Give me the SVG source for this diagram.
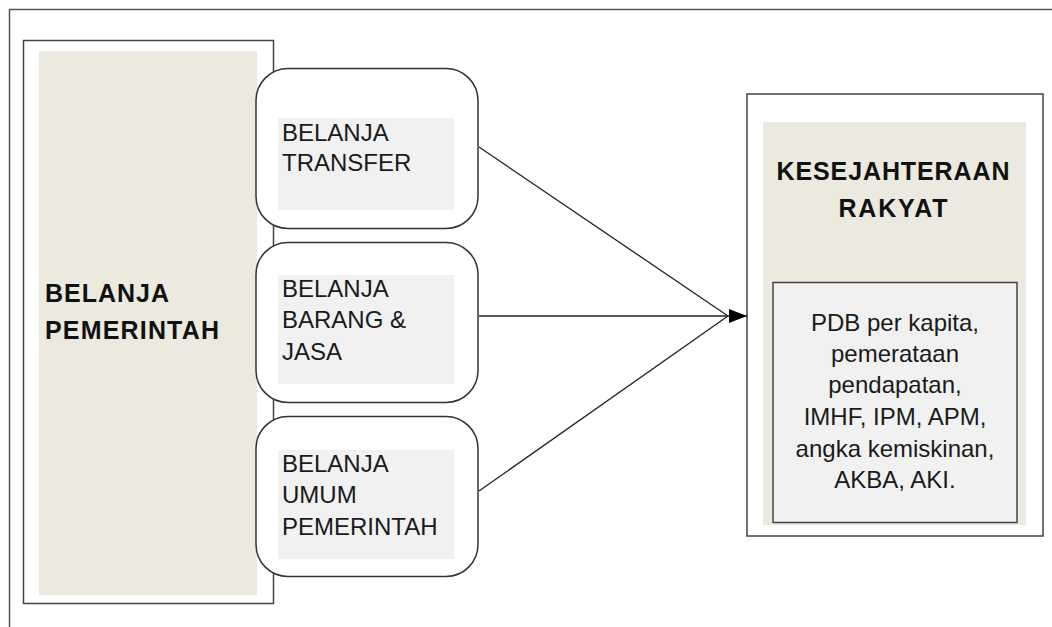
<svg xmlns="http://www.w3.org/2000/svg" width="1052" height="627" viewBox="0 0 1052 627">
<defs>
<style>
.frame{fill:#fff;stroke:#444;stroke-width:1.5}
.beige{fill:#ECE9DF}
.grey{fill:#F1F1F1}
.rbox{fill:#fff;stroke:#333;stroke-width:1.5}
.t{font-family:"Liberation Sans",Arial,sans-serif;font-size:24px;fill:#1a1a1a}
.b{font-family:"Liberation Sans",Arial,sans-serif;font-size:25px;font-weight:bold;fill:#111}
.conn{stroke:#222;stroke-width:1.3;fill:none}
</style>
<marker id="arr" markerWidth="20" markerHeight="16" refX="19" refY="8" orient="auto" markerUnits="userSpaceOnUse">
<path d="M1,1 L19,8 L1,15 Z" fill="#000"/>
</marker>
</defs>
<rect width="1052" height="627" fill="#fff"/>
<path d="M9.5,627 L9.5,9.5 L1052,9.5" fill="none" stroke="#555" stroke-width="1.5"/>

<g id="belanja-pemerintah">
<rect class="frame" x="23.5" y="40.5" width="250" height="563"/>
<rect class="beige" x="39" y="51" width="218" height="544"/>
<text class="b" x="45" y="302" textLength="124" lengthAdjust="spacing">BELANJA</text>
<text class="b" x="45" y="339" textLength="174" lengthAdjust="spacing">PEMERINTAH</text>
</g>

<g id="belanja-transfer">
<rect class="rbox" x="256" y="68.5" width="222" height="160" rx="32" ry="32"/>
<rect class="grey" x="278" y="118" width="176" height="92"/>
<text class="t" x="282" y="141">BELANJA</text>
<text class="t" x="282" y="171">TRANSFER</text>
</g>

<g id="belanja-barang-jasa">
<rect class="rbox" x="256" y="242.5" width="222" height="160" rx="32" ry="32"/>
<rect class="grey" x="278" y="275" width="176" height="109"/>
<text class="t" x="282" y="297">BELANJA</text>
<text class="t" x="282" y="328">BARANG &amp;</text>
<text class="t" x="282" y="360">JASA</text>
</g>

<g id="belanja-umum-pemerintah">
<rect class="rbox" x="256" y="416.5" width="222" height="160" rx="32" ry="32"/>
<rect class="grey" x="278" y="450" width="176" height="109"/>
<text class="t" x="282" y="472">BELANJA</text>
<text class="t" x="282" y="503">UMUM</text>
<text class="t" x="282" y="535">PEMERINTAH</text>
</g>

<g id="kesejahteraan-rakyat">
<rect class="frame" x="747" y="94" width="296" height="442"/>
<rect class="beige" x="763" y="122" width="263" height="403"/>
<text class="b" x="893" y="180" text-anchor="middle" textLength="233" lengthAdjust="spacing">KESEJAHTERAAN</text>
<text class="b" x="893" y="217" text-anchor="middle" textLength="109" lengthAdjust="spacing">RAKYAT</text>
<rect x="773" y="282.5" width="244" height="240" fill="#F1F1F1" stroke="#444" stroke-width="1.5"/>
<text class="t" x="895" y="331" text-anchor="middle">PDB per kapita,</text>
<text class="t" x="895" y="362" text-anchor="middle">pemerataan</text>
<text class="t" x="895" y="393" text-anchor="middle">pendapatan,</text>
<text class="t" x="895" y="425" text-anchor="middle">IMHF, IPM, APM,</text>
<text class="t" x="895" y="457" text-anchor="middle">angka kemiskinan,</text>
<text class="t" x="895" y="488" text-anchor="middle">AKBA, AKI.</text>
</g>

<g id="connectors">
<line class="conn" x1="479" y1="147" x2="728" y2="316"/>
<line class="conn" x1="479" y1="491" x2="728" y2="316"/>
<line class="conn" x1="479" y1="316" x2="747" y2="316" marker-end="url(#arr)"/>
</g>
</svg>
